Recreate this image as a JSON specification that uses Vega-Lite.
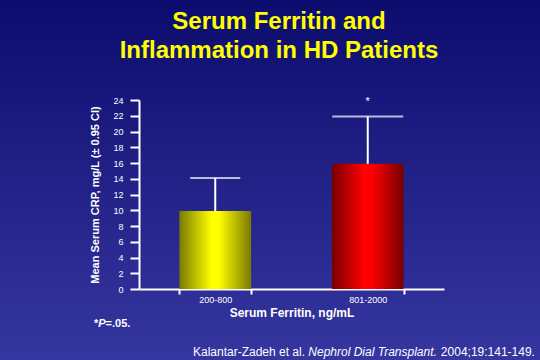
{
  "$schema": "https://vega.github.io/schema/vega-lite/v6.json",
  "width": 540,
  "height": 360,
  "autosize": {"type": "none"},
  "padding": 0,
  "background": "#22228a",
  "view": {
    "stroke": null,
    "fill": {"gradient": "linear", "x1": 0, "y1": 0, "x2": 0, "y2": 1,
      "stops": [{"offset": 0, "color": "#0c0c6e"}, {"offset": 1, "color": "#3636a0"}]}
  },
  "config": {"font": "Liberation Sans"},
  "title": {
    "text": ["Serum Ferritin and", "Inflammation in HD Patients"],
    "color": "#ffff00",
    "fontSize": 24,
    "fontWeight": "bold",
    "lineHeight": 29,
    "anchor": "middle",
    "frame": "group",
    "baseline": "alphabetic",
    "offset": 0,
    "dy": 82,
    "dx": 9
  },
  "data": {"values": [
    {"group": "200-800", "mean": 9.9, "upper": 14.1, "sig": ""},
    {"group": "801-2000", "mean": 15.9, "upper": 21.9, "sig": "*"}
  ]},
  "encoding": {
    "x": {
      "field": "group", "type": "nominal", "sort": null,
      "scale": {"domain": ["200-800", "801-2000"], "range": [139, 444], "paddingInner": 0.53, "paddingOuter": 0.265},
      "axis": {
        "orient": "bottom", "offset": -71, "title": "Serum Ferritin, ng/mL",
        "titleColor": "white", "titleFontSize": 12, "titleFontWeight": "bold", "titlePadding": 3,
        "labelColor": "white", "labelFontSize": 9, "labelAngle": 0, "labelPadding": 1,
        "domainColor": "white", "domainWidth": 2, "tickColor": "white", "tickWidth": 2, "tickSize": 5,
        "tickBand": "extent", "grid": false
      }
    },
    "y": {
      "field": "mean", "type": "quantitative",
      "scale": {"domain": [0, 24], "range": [289, 100], "nice": false},
      "axis": {
        "orient": "left", "offset": -139, "values": [0, 2, 4, 6, 8, 10, 12, 14, 16, 18, 20, 22, 24],
        "title": "Mean Serum CRP, mg/L (± 0.95 CI)",
        "titleColor": "white", "titleFontSize": 11, "titleFontWeight": "bold", "titlePadding": 12,
        "labelColor": "white", "labelFontSize": 9, "labelPadding": 7,
        "domainColor": "white", "domainWidth": 2, "tickColor": "white", "tickWidth": 2, "tickSize": 9,
        "grid": false
      }
    }
  },
  "layer": [
    {
      "transform": [{"filter": "datum.group === '200-800'"}],
      "mark": {"type": "bar", "color": {"gradient": "linear", "x1": 0, "y1": 0, "x2": 1, "y2": 0,
        "stops": [{"offset": 0, "color": "#7a7a00"}, {"offset": 0.45, "color": "#ffff00"}, {"offset": 0.55, "color": "#ffff00"}, {"offset": 1, "color": "#7a7a00"}]}}
    },
    {
      "transform": [{"filter": "datum.group === '801-2000'"}],
      "mark": {"type": "bar", "color": {"gradient": "linear", "x1": 0, "y1": 0, "x2": 1, "y2": 0,
        "stops": [{"offset": 0, "color": "#780000"}, {"offset": 0.45, "color": "#ff0000"}, {"offset": 0.55, "color": "#ff0000"}, {"offset": 1, "color": "#780000"}]}}
    },
    {
      "mark": {"type": "rule", "color": "white", "strokeWidth": 2},
      "encoding": {"y2": {"field": "upper"}}
    },
    {
      "transform": [{"filter": "datum.group === '200-800'"}],
      "mark": {"type": "tick", "color": "white", "thickness": 2, "size": 50},
      "encoding": {"y": {"field": "upper", "type": "quantitative"}}
    },
    {
      "transform": [{"filter": "datum.group === '801-2000'"}],
      "mark": {"type": "tick", "color": "white", "thickness": 2, "size": 71},
      "encoding": {"y": {"field": "upper", "type": "quantitative"}}
    },
    {
      "mark": {"type": "text", "color": "white", "fontSize": 11, "baseline": "middle", "dy": 2},
      "encoding": {"y": {"datum": 24}, "text": {"field": "sig"}}
    },
    {
      "transform": [{"filter": "datum.group === '200-800'"}],
      "mark": {"type": "text", "color": "white", "fontSize": 11, "fontWeight": "bold", "align": "left", "baseline": "middle", "dx": -121.3},
      "encoding": {"y": {"datum": -4.5}, "text": {"value": "*"}}
    },
    {
      "transform": [{"filter": "datum.group === '200-800'"}],
      "mark": {"type": "text", "color": "white", "fontSize": 11, "fontWeight": "bold", "fontStyle": "italic", "align": "left", "baseline": "middle", "dx": -117},
      "encoding": {"y": {"datum": -4.5}, "text": {"value": "P"}}
    },
    {
      "transform": [{"filter": "datum.group === '200-800'"}],
      "mark": {"type": "text", "color": "white", "fontSize": 11, "fontWeight": "bold", "align": "left", "baseline": "middle", "dx": -109.7},
      "encoding": {"y": {"datum": -4.5}, "text": {"value": "=.05."}}
    },
    {
      "transform": [{"filter": "datum.group === '200-800'"}],
      "mark": {"type": "text", "color": "white", "fontSize": 12, "align": "left", "baseline": "middle", "dx": -22.3},
      "encoding": {"y": {"datum": -8}, "text": {"value": "Kalantar-Zadeh et al."}}
    },
    {
      "transform": [{"filter": "datum.group === '200-800'"}],
      "mark": {"type": "text", "color": "white", "fontSize": 12, "fontStyle": "italic", "align": "left", "baseline": "middle", "dx": 93.1},
      "encoding": {"y": {"datum": -8}, "text": {"value": "Nephrol Dial Transplant."}}
    },
    {
      "transform": [{"filter": "datum.group === '801-2000'"}],
      "mark": {"type": "text", "color": "white", "fontSize": 12, "align": "right", "baseline": "middle", "dx": 167.2},
      "encoding": {"y": {"datum": -8}, "text": {"value": "2004;19:141-149."}}
    }
  ]
}
